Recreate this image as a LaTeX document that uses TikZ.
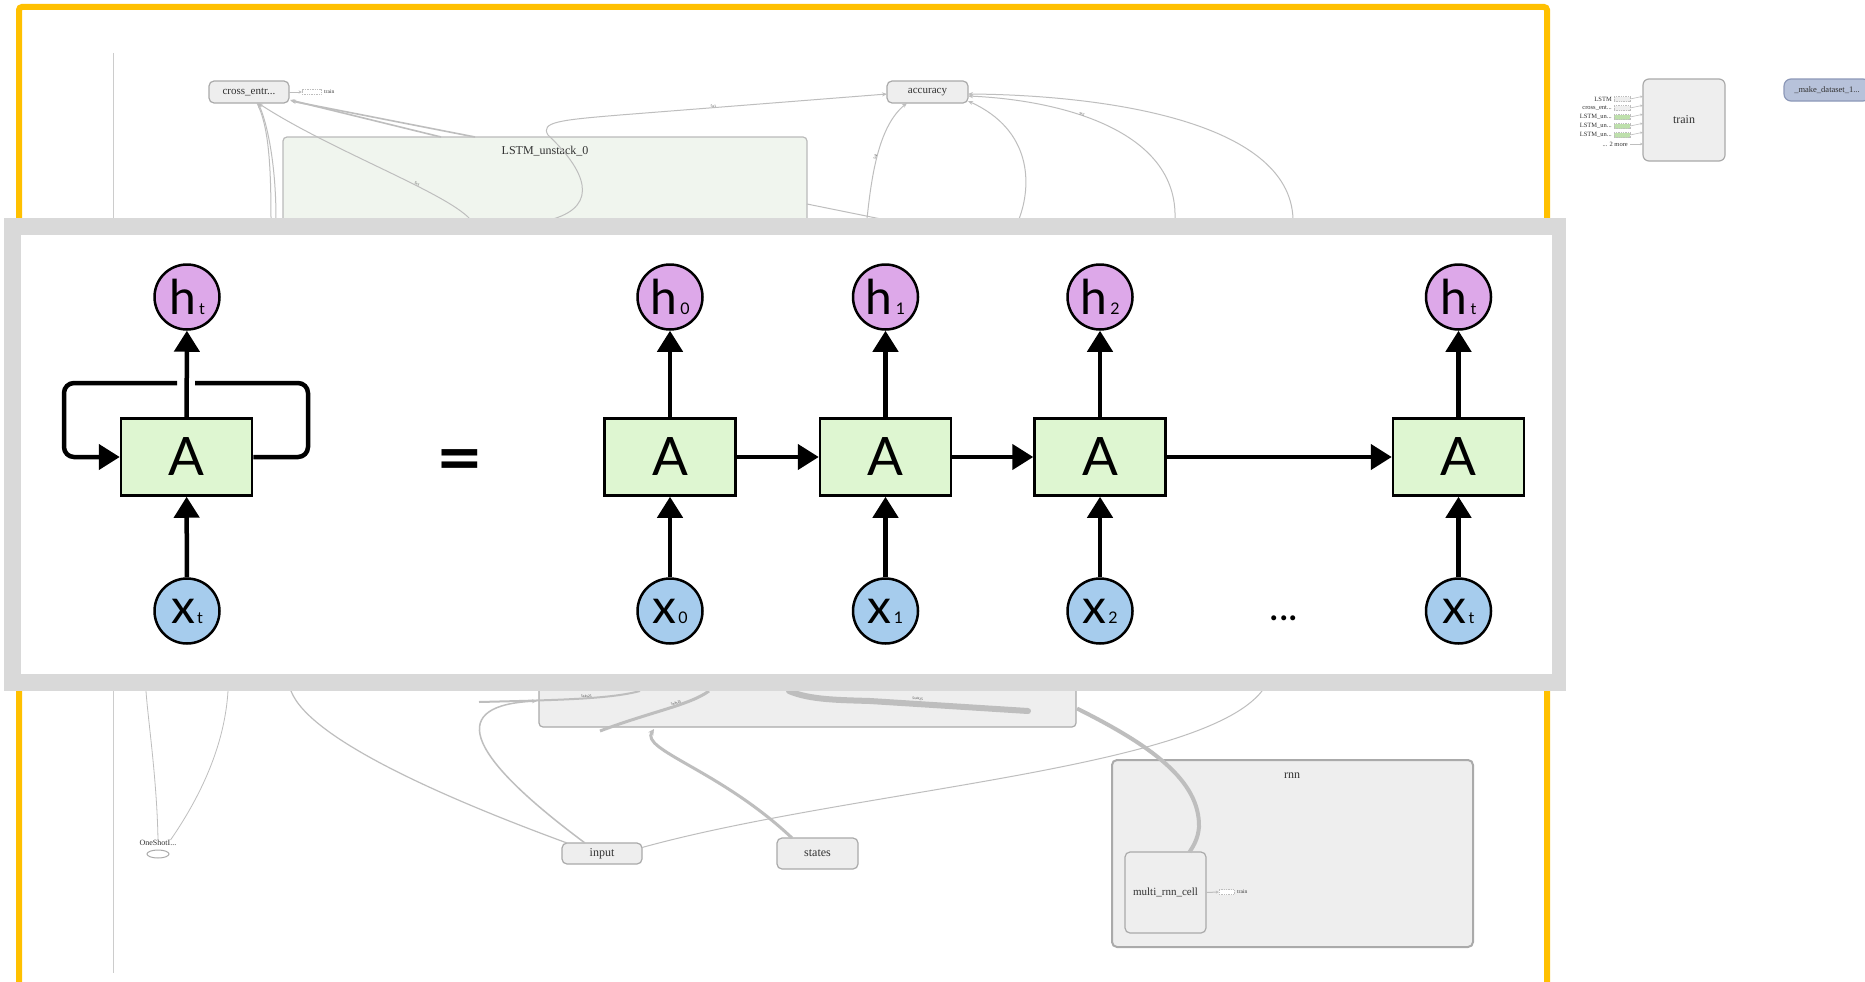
\documentclass[tikz,border=0pt]{standalone}
\usepackage{fontspec}
\setmainfont{Liberation Serif}
\newfontfamily\rnnfont{Lato}
\usetikzlibrary{arrows.meta,calc,shapes.geometric}
\definecolor{ybord}{RGB}{255,192,0}
\definecolor{tbedge}{RGB}{190,190,190}
\definecolor{tbnode}{RGB}{238,238,238}
\definecolor{tbdraw}{RGB}{170,170,170}
\definecolor{lstmfill}{RGB}{240,245,238}
\definecolor{hfill}{RGB}{221,168,233}
\definecolor{xfill}{RGB}{166,204,237}
\definecolor{afill}{RGB}{222,246,209}
\definecolor{framegrey}{RGB}{217,217,217}
\definecolor{dsfill}{RGB}{183,194,218}
\definecolor{dsdraw}{RGB}{140,152,184}
\definecolor{greenbox}{RGB}{190,224,172}
\definecolor{tbtext}{RGB}{50,50,50}
\begin{document}
\begin{tikzpicture}[x=1pt,y=-1pt,
  tbe/.style={draw=tbedge, line width=1pt},
  tip/.style={-{Stealth[length=5pt,width=4pt]}},
  tbbox/.style={draw=tbdraw, fill=tbnode, line width=1.2pt, rounded corners=5pt, inner sep=0pt, outer sep=0pt, text=tbtext},
  tbtxt/.style={font=\fontsize{11}{12}\selectfont},
  tbbig/.style={font=\fontsize{12}{13}\selectfont},
  tiny/.style={inner sep=0pt, text=tbtext, font=\fontsize{6.5}{7}\selectfont},
  elab/.style={inner sep=0pt, text=tbtext, font=\fontsize{3.5}{4}\selectfont, sloped},
  minibox/.style={draw=tbedge, dash pattern=on 1pt off 0.7pt, line width=0.5pt, inner sep=0pt, minimum height=5pt},
  abox/.style={draw=black, line width=2.5pt, fill=afill, minimum width=131pt, minimum height=77pt, inner sep=0pt, font=\rnnfont\fontsize{53}{53}\selectfont},
  hcirc/.style={circle, draw=black, line width=2.5pt, fill=hfill, minimum size=65pt, inner sep=0pt},
  xcirc/.style={circle, draw=black, line width=2.5pt, fill=xfill, minimum size=65pt, inner sep=0pt},
  rarrow/.style={line width=4.5pt, -{Triangle[width=25pt,length=21pt]}},
  rline/.style={line width=4.5pt}
]
\newcommand{\hlab}[1]{{\rnnfont\fontsize{48}{48}\selectfont h\kern3pt\fontsize{16}{16}\selectfont #1}}
\newcommand{\xlab}[1]{{\rnnfont\fontsize{48}{48}\selectfont x\kern2pt\fontsize{16}{16}\selectfont #1}}
\useasboundingbox (0,0) rectangle (1865,982);
\fill[white] (0,0) rectangle (1865,982);

% ---------- background graph ----------
\draw[ybord, line width=6pt, rounded corners=3pt] (19,990) -- (19,7) -- (1547,7) -- (1547,990);
\draw[draw=black!20, line width=0.8pt] (113,53) -- (113,973);

% top nodes
\node[tbbox, tbtxt, minimum width=80pt, minimum height=22pt] (ce) at (249,92) {cross\_entr...};
\node[tbbox, tbtxt, minimum width=81pt, minimum height=22pt] (acc) at (927.5,92) {accuracy};
\node[draw=black!27, fill=lstmfill, line width=1.2pt, rounded corners=4pt, minimum width=524pt, minimum height=163pt, inner sep=0pt, outer sep=0pt] (lstm) at (545,218.5) {};
\node[tbbig, text=tbtext] (lstmlab) at (545,151) {LSTM\_unstack\_0};
\node[minibox, fill=white, minimum width=19pt] (cetr) at (311.5,92) {};
\node[tiny, anchor=west, font=\fontsize{5.5}{6}\selectfont] (cetrl) at (324,92) {train};
\draw[tbe, -{Stealth[length=3pt,width=3pt]}] (ce.east) -- (cetr.west);

% right train node and inputs
\node[tbbox, tbbig, rounded corners=6pt, minimum width=82pt, minimum height=82pt] (trainR) at (1684,120) {train};
\node[tiny, anchor=east] (inl0) at (1612,99) {LSTM};
\node[tiny, anchor=east] (inl1) at (1612,108) {cross\_ent...};
\node[tiny, anchor=east] (inl2) at (1612,117) {LSTM\_un...};
\node[tiny, anchor=east] (inl3) at (1612,126) {LSTM\_un...};
\node[tiny, anchor=east] (inl4) at (1612,135) {LSTM\_un...};
\node[tiny, anchor=east] (inl5) at (1628,144) {... 2 more};
\node[minibox, fill=tbnode, minimum width=16pt] (inb0) at (1622,99) {};
\node[minibox, fill=tbnode, minimum width=16pt] (inb1) at (1622,108) {};
\node[minibox, fill=greenbox, minimum width=16pt] (inb2) at (1622,117) {};
\node[minibox, fill=greenbox, minimum width=16pt] (inb3) at (1622,126) {};
\node[minibox, fill=greenbox, minimum width=16pt] (inb4) at (1622,135) {};
\foreach \i in {0,1,2,3,4}{
  \draw[tbe, line width=0.6pt, -{Stealth[length=3pt,width=2.5pt]}] (inb\i.east) -- (trainR.west |- inb\i.north);
}
\draw[tbe, line width=0.6pt, -{Stealth[length=3pt,width=2.5pt]}] ([xshift=2pt]inl5.east) -- (trainR.west |- inl5.east);

\node[draw=dsdraw, fill=dsfill, line width=1.2pt, rounded corners=7pt, minimum width=86pt, minimum height=22pt, inner sep=0pt, text=tbtext, font=\fontsize{8.5}{9}\selectfont] (mkds) at (1827,90) {\_make\_dataset\_1...};

% top edges (free ends hidden under the overlay)
\coordinate (c3) at (470,219);
\coordinate (c4a) at (271,219);
\coordinate (c4b) at (276,219);
\coordinate (c5) at (553,219);
\coordinate (c6) at (881,219);
\coordinate (c7) at (867,219);
\coordinate (c8) at (1019,219);
\coordinate (c9) at (1175,219);
\coordinate (c10) at (1293,219);

\draw[tbe, line width=1.6pt, tip] ($(lstm.north west)+(158,0)$) -- ($(ce.south east)+(1,-3)$);
\draw[tbe, line width=1.6pt, tip] ($(lstm.north west)+(192,0)$) -- ($(ce.south east)+(2,-2)$);
\draw[tbe, tip] (c3) .. controls (445,192) and (330,150) .. ($(ce.south)+(9,0)$) node[elab, pos=0.35, above] {5x1};
\draw[tbe] (c4a) .. controls (271,160) and (268,125) .. ($(ce.south)+(8,0)$);
\draw[tbe, tip] (c4b) .. controls (276,160) and (266,120) .. ($(ce.south)+(9,0)$);
\draw[tbe, tip] (c5) .. controls (600,205) and (585,170) .. (548,135) .. controls (540,122) and (560,120) .. (620,115) -- ($(acc.west)+(0,2)$) node[elab, pos=0.35, above] {5x1};
\draw[tbe] ($(lstm.north east)+(0,67)$) -- (c6);
\draw[tbe, tip] (c7) .. controls (872,170) and (880,125) .. ($(acc.south west)+(20,0)$) node[elab, pos=0.45, above] {5x2};
\draw[tbe, tip] (c8) .. controls (1032,185) and (1032,130) .. ($(acc.south east)+(0,-2)$);
\draw[tbe, tip] (c9) .. controls (1178,130) and (1060,100) .. ($(acc.east)+(0,4)$) node[elab, pos=0.6, above] {5x2};
\draw[tbe, tip] (c10) .. controls (1290,120) and (1100,95) .. ($(acc.east)+(0,2)$);

% bottom nodes
\node[tbbox, rounded corners=4pt, minimum width=537pt, minimum height=127pt] (grp) at (807.5,663.5) {};
\node[tbbox, tbbig, minimum width=80pt, minimum height=21pt] (inp) at (602,853.5) {input};
\node[tbbox, tbbig, minimum width=81pt, minimum height=31pt] (sts) at (817.5,853.5) {states};
\node[tbbox, line width=2pt, minimum width=361pt, minimum height=187pt] (rnn) at (1292.5,853.5) {};
\node[tbbig, text=tbtext] (rnnlab) at (1292,776) {rnn};
\node[tbbox, tbtxt, minimum width=81pt, minimum height=81pt] (multi) at (1165.5,892.5) {multi\_rnn\_cell};
\node[minibox, fill=white, minimum width=15pt] (mtr) at (1226.5,892) {};
\node[tiny, anchor=west, font=\fontsize{5.5}{6}\selectfont] (mtrl) at (1237,892) {train};
\draw[tbe, -{Stealth[length=3pt,width=3pt]}] (multi.east) -- (mtr.west);
\node[ellipse, draw=tbdraw, line width=1pt, minimum width=22pt, minimum height=8pt, inner sep=0pt] (osh) at (158,854) {};
\node[tiny, font=\fontsize{8}{9}\selectfont] (oshlab) at (158,843) {OneShotI...};

% bottom edges
\coordinate (b1s) at (479,702);
\coordinate (b1e) at (640,691);
\coordinate (b2s) at (600,731);
\coordinate (b2e) at (709,691);
\coordinate (b3s) at (789,691);
\coordinate (b3e) at (1028,711);
\coordinate (b5e) at (291,691);
\coordinate (b8e) at (1262,691);
\coordinate (os1) at (146,691);
\coordinate (os2) at (228,691);
\coordinate (b6e) at (537,701);
\coordinate (b7e) at (654,729);

\draw[tbe, line width=2pt] (b1s) .. controls (560,700) and (610,699) .. (b1e) node[elab, pos=0.55, above] {5x4x25};
\draw[tbe, line width=3pt] (b2s) .. controls (650,712) and (690,705) .. (b2e) node[elab, pos=0.6, above] {5x4x25};
\draw[tbe, line width=6pt, line cap=round] (b3s) .. controls (810,700) and (840,700) .. (870,701) -- (b3e) node[elab, pos=0.3, above=1pt] {5x4x25};
\draw[tbe, line width=4pt] ($(grp.east)+(1,45)$) .. controls (1150,745) and (1200,780) .. (1199,827) .. controls (1198,840) and (1192,848) .. ($(multi.north)+(24,0)$);
\draw[tbe, line width=1.2pt] ($(inp.north west)+(5,0)$) .. controls (450,800) and (310,740) .. (b5e);
\draw[tbe, line width=1.5pt, tip] ($(inp.north)+(-17,0)$) .. controls (460,750) and (450,705) .. (b6e);
\draw[tbe, line width=3pt, -{Stealth[length=6pt,width=6pt]}] ($(sts.north west)+(15,0)$) .. controls (720,770) and (640,750) .. (b7e);
\draw[tbe] ($(inp.east)+(0,-6)$) .. controls (850,790) and (1200,770) .. (b8e);
\draw[tbe, line width=0.8pt] (oshlab.north) .. controls (157,780) and (148,720) .. (os1);
\draw[tbe, line width=0.8pt] ($(oshlab.north east)+(-6,0)$) .. controls (205,790) and (225,740) .. (os2);

% ---------- overlay ----------
\fill[framegrey] (4,218) rectangle (1566,691);
\fill[white] (21,235) rectangle (1552,674);

% folded RNN
\node[abox] (A) at (186.5,457) {A};
\node[hcirc] (H) at (187,297) {\hlab{t}};
\node[xcirc] (X) at (187,611) {\xlab{t}};
\draw[rarrow] (X) -- (A);
\draw[rarrow] (A) -- (H);
\coordinate (gapR) at (195,383);
\coordinate (gapL) at (177,383);
\draw[rline, rounded corners=10pt] (A.east) -- (308,457) -- (308,383) -- (gapR);
\draw[rline, rounded corners=10pt, -{Triangle[width=25pt,length=21pt]}] (gapL) -- (64,383) -- (64,457) -- (A.west);

\node[font=\rnnfont\bfseries\fontsize{70}{70}\selectfont, inner sep=0pt] (eq) at (460,466) {\scalebox{1.15}[1]{=}};

% unrolled RNN
\node[abox] (A0) at (670,457) {A};
\node[abox] (A1) at (885.5,457) {A};
\node[abox] (A2) at (1100,457) {A};
\node[abox] (At) at (1458.5,457) {A};
\node[hcirc] (H0) at (670,297) {\hlab{0}};
\node[hcirc] (H1) at (885.5,297) {\hlab{1}};
\node[hcirc] (H2) at (1100,297) {\hlab{2}};
\node[hcirc] (Ht) at (1458.5,297) {\hlab{t}};
\node[xcirc] (X0) at (670,611) {\xlab{0}};
\node[xcirc] (X1) at (885.5,611) {\xlab{1}};
\node[xcirc] (X2) at (1100,611) {\xlab{2}};
\node[xcirc] (Xt) at (1458.5,611) {\xlab{t}};
\foreach \n in {0,1,2,t}{
  \draw[rarrow] (X\n) -- (A\n);
  \draw[rarrow] (A\n) -- (H\n);
}
\draw[rarrow] (A0) -- (A1);
\draw[rarrow] (A1) -- (A2);
\draw[rarrow] (A2) -- (At);
\node[font=\rnnfont\fontsize{40}{40}\selectfont, inner sep=0pt] (dots) at (1284,618) {...};
\end{tikzpicture}
\end{document}
